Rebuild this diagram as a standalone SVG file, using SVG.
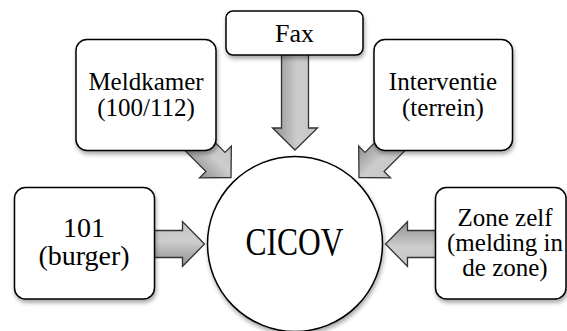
<svg xmlns="http://www.w3.org/2000/svg" width="567" height="331" viewBox="0 0 567 331">
<style>
.box{fill:#fff;stroke:#000;stroke-width:1.5}
.arr{fill:url(#ag);stroke:#333;stroke-width:1.3;stroke-linejoin:miter}
text{font-family:"Liberation Serif","DejaVu Serif","Times New Roman",serif;fill:#000;text-anchor:middle}
.t{font-size:25px}
.big{font-size:28px}
</style>
<defs>
<linearGradient id="ag" x1="0" y1="0" x2="0" y2="1">
<stop offset="0" stop-color="#c4c4c4"/>
<stop offset="0.45" stop-color="#cdcdcd"/>
<stop offset="1" stop-color="#8e8e8e"/>
</linearGradient>
<filter id="sh" x="-10%" y="-10%" width="130%" height="130%">
<feDropShadow dx="1" dy="3" stdDeviation="2" flood-color="#000" flood-opacity="0.35"/>
</filter>
<polygon id="arrow" points="0,0 -22,-22.5 -22,-13.5 -60,-13.5 -60,13.5 -22,13.5 -22,22.5"/>
<polygon id="arrowL" points="0,0 -22,-22.5 -22,-13.5 -100,-13.5 -100,13.5 -22,13.5 -22,22.5"/>
</defs>
<g id="connectors">
<use href="#arrowL" class="arr" transform="translate(295,150) rotate(90)"/>
<use href="#arrow" class="arr" transform="translate(231,177.5) rotate(45)"/>
<use href="#arrow" class="arr" transform="translate(359,177.5) rotate(135)"/>
<use href="#arrow" class="arr" transform="translate(204.5,244)"/>
<use href="#arrow" class="arr" transform="translate(385.5,244) rotate(180)"/>
</g>
<g id="fax">
<rect class="box" filter="url(#sh)" x="226" y="11" width="137" height="44" rx="7"/>
<text x="294.5" y="42" font-family="Liberation Serif, serif" style="font-size:26px">Fax</text>
</g>
<g id="meldkamer">
<rect class="box" filter="url(#sh)" x="76" y="39.5" width="140" height="111" rx="11"/>
<text class="t" x="146" y="90">Meldkamer</text>
<text class="t" x="146" y="116">(100/112)</text>
</g>
<g id="interventie">
<rect class="box" filter="url(#sh)" x="374" y="39.5" width="138.5" height="111" rx="11"/>
<text class="t" x="443" y="90">Interventie</text>
<text class="t" x="443" y="116">(terrein)</text>
</g>
<g id="burger">
<rect class="box" filter="url(#sh)" x="14.5" y="187.5" width="140" height="111.5" rx="11"/>
<text class="big" x="84" y="237">101</text>
<text class="big" x="84" y="265">(burger)</text>
</g>
<g id="zone">
<rect class="box" filter="url(#sh)" x="435.5" y="187.5" width="130.5" height="111.5" rx="11"/>
<text class="t" x="505" y="226">Zone zelf</text>
<text class="t" x="505" y="251">(melding in</text>
<text class="t" x="505" y="276">de zone)</text>
</g>
<g id="cicov">
<circle class="box" filter="url(#sh)" cx="295" cy="244" r="87.5"/>
<text x="294.5" y="255" style="font-size:39px" textLength="98" lengthAdjust="spacingAndGlyphs">CICOV</text>
</g>
</svg>
